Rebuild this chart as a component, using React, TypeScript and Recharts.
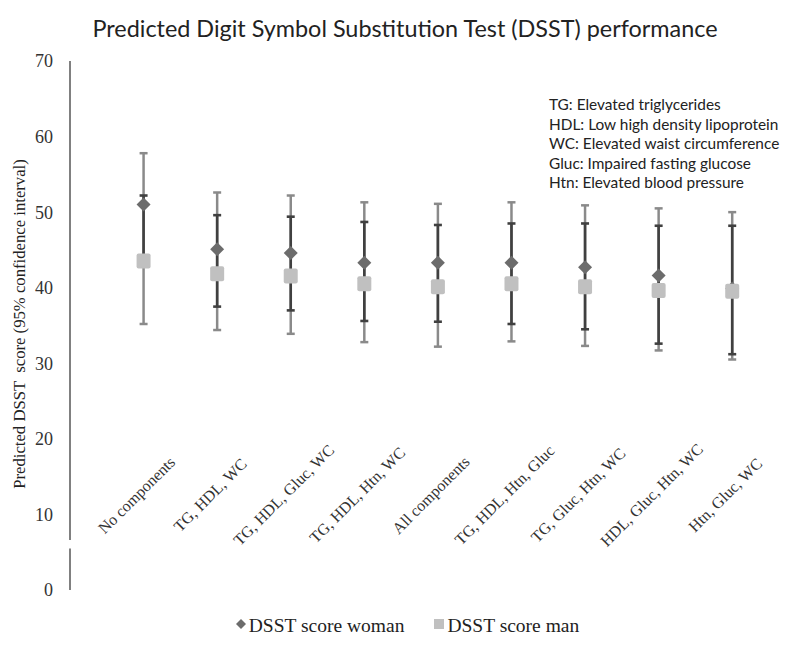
import React from 'react';
import {
  ScatterChart,
  Scatter,
  XAxis,
  YAxis,
  ErrorBar,
  ReferenceLine,
  Legend,
  Customized,
} from 'recharts';

// ---- data ----
const categories = [
  'No components',
  'TG, HDL, WC',
  'TG, HDL, Gluc, WC',
  'TG, HDL, Htn, WC',
  'All components',
  'TG, HDL, Htn, Gluc',
  'TG, Gluc, Htn, WC',
  'HDL, Gluc, Htn, WC',
  'Htn, Gluc, WC',
];
const womanMean = [51.0, 45.1, 44.6, 43.3, 43.3, 43.3, 42.7, 41.6, 39.9];
const womanLow = [44.0, 37.5, 37.0, 35.6, 35.5, 35.2, 34.5, 32.6, 31.2];
const womanHigh = [52.2, 49.6, 49.4, 48.7, 48.3, 48.5, 48.5, 48.2, 48.2];
const manMean = [43.6, 41.9, 41.6, 40.6, 40.2, 40.6, 40.2, 39.7, 39.6];
const manLow = [35.2, 34.4, 33.9, 32.8, 32.2, 32.9, 32.3, 31.7, 30.5];
const manHigh = [57.8, 52.6, 52.2, 51.3, 51.1, 51.3, 50.9, 50.5, 50.0];
const yTicks = [0, 10, 20, 30, 40, 50, 60, 70];
const seriesNames = ['DSST score woman', 'DSST score man'];
const title = 'Predicted Digit Symbol Substitution Test (DSST) performance';
const yLabel = 'Predicted DSST  score (95% confidence interval)';
const annotationLines = [
  'TG: Elevated triglycerides',
  'HDL: Low high density lipoprotein',
  'WC: Elevated waist circumference',
  'Gluc: Impaired fasting glucose',
  'Htn: Elevated blood pressure',
];

const womanData = categories.map((name, i) => ({
  x: i + 1,
  name,
  y: womanMean[i],
  err: [womanMean[i] - womanLow[i], womanHigh[i] - womanMean[i]],
}));
const manData = categories.map((name, i) => ({
  x: i + 1,
  name,
  y: manMean[i],
  err: [manMean[i] - manLow[i], manHigh[i] - manMean[i]],
}));
const xTicks = categories.map((_, i) => i + 1);

const SERIF = '"Liberation Serif", "Times New Roman", serif';
const SANS = 'Lato, "Open Sans", sans-serif';
const WOMAN_FILL = '#6c6c6c';
const MAN_FILL = '#c0c0c0';

const Diamond = (props: any) => {
  const { cx, cy } = props;
  if (cx == null || cy == null) return <g />;
  const r = 7;
  return (
    <polygon
      points={`${cx},${cy - r} ${cx + r},${cy} ${cx},${cy + r} ${cx - r},${cy}`}
      fill={WOMAN_FILL}
    />
  );
};

const Square = (props: any) => {
  const { cx, cy } = props;
  if (cx == null || cy == null) return <g />;
  const h = 7;
  return <rect x={cx - h} y={cy - h} width={2 * h} height={2 * h + 1} rx={2} fill={MAN_FILL} />;
};

const Hidden = () => <g />;

const CategoryTick = (props: any) => {
  const { x, y, payload } = props;
  const label = categories[Math.round(payload.value) - 1];
  if (!label) return <g />;
  const cx = x - 7;
  const cy = y - 95;
  return (
    <text
      x={cx}
      y={cy}
      transform={`rotate(-45, ${cx}, ${cy})`}
      textAnchor="middle"
      dominantBaseline="central"
      fontFamily={SERIF}
      fontSize={16}
      fill="#333"
    >
      {label}
    </text>
  );
};

const Decorations = () => (
  <g>
    <text x={405} y={37} textAnchor="middle" fontFamily={SANS} fontSize={23.4} fill="#222">
      {title}
    </text>
    <text
      x={19}
      y={324}
      transform="rotate(-90, 19, 324)"
      textAnchor="middle"
      dominantBaseline="central"
      fontFamily={SERIF}
      fontSize={16.7}
      fill="#222"
      style={{ whiteSpace: 'pre' }}
    >
      {yLabel}
    </text>
    {annotationLines.map((line, i) => (
      <text key={line} x={549} y={110 + i * 19.6} fontFamily={SANS} fontSize={15.4} fill="#222">
        {line}
      </text>
    ))}
  </g>
);

const renderLegend = (props: any) => {
  const payload = (props.payload || [])
    .filter((p: any) => seriesNames.includes(p.value))
    .sort((a: any, b: any) => seriesNames.indexOf(a.value) - seriesNames.indexOf(b.value));
  return (
    <div
      style={{
        display: 'flex',
        justifyContent: 'center',
        alignItems: 'center',
        gap: 30,
        paddingLeft: 15,
        fontFamily: SERIF,
        fontSize: 19.5,
        color: '#222',
      }}
    >
      {payload.map((p: any) => (
        <span key={p.value} style={{ display: 'flex', alignItems: 'center' }}>
          <svg width={10} height={10} style={{ marginRight: 3, marginTop: -5 }}>
            {p.type === 'diamond' ? (
              <polygon points="5,0 10,5 5,10 0,5" fill={WOMAN_FILL} />
            ) : (
              <rect width={10} height={10} fill={MAN_FILL} />
            )}
          </svg>
          {p.value}
        </span>
      ))}
    </div>
  );
};

export default function App() {
  return (
    <div style={{ position: 'absolute', left: 0, top: 0, background: '#fff' }}>
      <ScatterChart width={800} height={653} margin={{ top: 61, right: 31, bottom: 33, left: 0 }}>
        <XAxis
          type="number"
          dataKey="x"
          domain={[0, 9.5]}
          ticks={xTicks}
          interval={0}
          axisLine={false}
          tickLine={false}
          tickSize={0}
          tickMargin={0}
          height={30}
          tick={<CategoryTick />}
        />
        <YAxis
          type="number"
          dataKey="y"
          domain={[0, 70]}
          ticks={yTicks}
          interval={0}
          width={70}
          axisLine={false}
          tickLine={false}
          tickSize={0}
          tickMargin={17}
          tick={{ fill: '#333', fontSize: 18, fontFamily: SERIF }}
        />
        <ReferenceLine
          segment={[{ x: 0, y: 0 }, { x: 0, y: 5.5 }]}
          stroke="#808080"
          strokeWidth={2}
          ifOverflow="visible"
        />
        <ReferenceLine
          segment={[{ x: 0, y: 6.6 }, { x: 0, y: 70 }]}
          stroke="#808080"
          strokeWidth={2}
          ifOverflow="visible"
        />
        <Scatter
          name="man-bars"
          data={manData}
          shape={<Hidden />}
          legendType="none"
          isAnimationActive={false}
        >
          <ErrorBar dataKey="err" direction="y" width={4} stroke="#8a8a8a" strokeWidth={2.5} />
        </Scatter>
        <Scatter
          name={seriesNames[0]}
          data={womanData}
          fill={WOMAN_FILL}
          shape={<Diamond />}
          legendType="diamond"
          isAnimationActive={false}
        >
          <ErrorBar dataKey="err" direction="y" width={4} stroke="#404040" strokeWidth={2.6} />
        </Scatter>
        <Scatter
          name={seriesNames[1]}
          data={manData}
          fill={MAN_FILL}
          shape={<Square />}
          legendType="square"
          isAnimationActive={false}
        />
        <Customized component={<Decorations />} />
        <Legend
          verticalAlign="middle"
          layout="horizontal"
          wrapperStyle={{ top: 615, left: 0, width: 800 }}
          content={renderLegend}
        />
      </ScatterChart>
    </div>
  );
}
